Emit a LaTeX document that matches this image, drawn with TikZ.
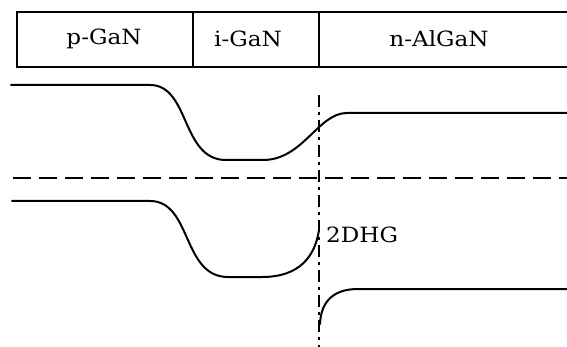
\documentclass[tikz,border=0pt]{standalone}
\usepackage{fontspec}
\usepackage{xcolor}
\usepackage{tikz}
\newfontfamily\layerfont[FakeStretch=1.1]{DejaVu Serif}
\definecolor{ink}{HTML}{000000}
\definecolor{paper}{HTML}{FFFFFF}
\tikzset{
  boxLine/.style={draw=ink, line width=1.8pt},
  bandLine/.style={draw=ink, line width=2pt, line cap=round, line join=round},
  fermiLine/.style={draw=ink, line width=1.9pt, dash pattern=on 18pt off 8pt},
  junctionLine/.style={draw=ink, line width=1.6pt, dash pattern=on 12pt off 5pt on 3pt off 5pt},
  layerLbl/.style={text=ink, inner sep=1pt, font=\layerfont\fontsize{21}{24}\selectfont},
}

\begin{document}
\begin{tikzpicture}[x=1pt, y=-1pt]
  \useasboundingbox[fill=paper] (0,0) rectangle (567,347);

  % layer stack
  \coordinate (boxTL) at (17,12);
  \coordinate (boxBL) at (17,67);
  \coordinate (div1T) at (193,12);
  \coordinate (div1B) at (193,67);
  \coordinate (div2T) at (319,12);
  \coordinate (div2B) at (319,67);
  \draw[boxLine] (567,12) -- (boxTL) -- (boxBL) -- (567,67);
  \draw[boxLine] (div1T) -- (div1B);
  \draw[boxLine] (div2T) -- (div2B);

  \node[layerLbl] (pgan)   at (104,39) {p-GaN};
  \node[layerLbl] (igan)   at (248,39) {i-GaN};
  \node[layerLbl] (nalgan) at (439,39) {n-AlGaN};

  % interface
  \coordinate (ifTop) at (319,95);
  \coordinate (ifBot) at (319,347);
  \draw[junctionLine] (ifTop) -- (ifBot);

  % Fermi level
  \draw[fermiLine] (13,178) -- (567,178);

  % conduction band
  \draw[bandLine] (11,85) -- (150,85)
    .. controls (190,85) and (181,160) .. (226,160) -- (263,160)
    .. controls (303,160) and (318,113) .. (347,113) -- (567,113);

  % valence band
  \draw[bandLine] (12,201) -- (150,201)
    .. controls (192,201) and (182,277) .. (228,277) -- (262,277)
    .. controls (300,277) and (315,256) .. (319,230);
  \draw[bandLine] (320,324)
    .. controls (321,300) and (335,289) .. (358,289) -- (567,289);

  \node[layerLbl, anchor=west] (hole) at (325,235) {2DHG};
\end{tikzpicture}
\end{document}
